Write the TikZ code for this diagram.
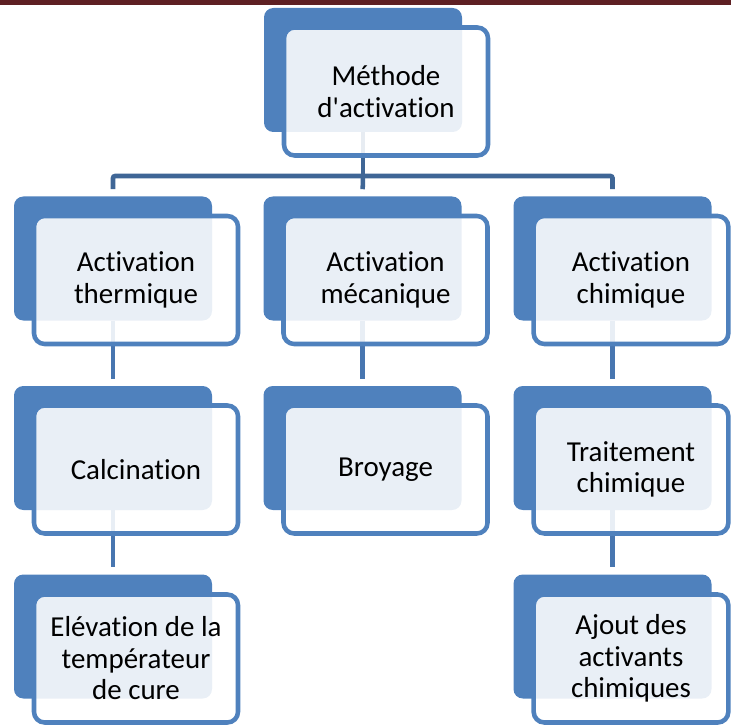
\documentclass[tikz,border=0pt]{standalone}
\usepackage{fontspec}
\setmainfont{Carlito}[Ligatures={NoCommon,NoRequired,NoContextual}]
\usetikzlibrary{positioning,calc}

\definecolor{accent}{HTML}{4F81BD}
\definecolor{trunkblue}{HTML}{3F6696}
\definecolor{linkblue}{HTML}{4876B0}
\definecolor{topbar}{HTML}{5E2023}

\begin{document}
\begin{tikzpicture}[
    x=0.75pt, y=-0.75pt,
    back/.style={fill=accent, rounded corners=7pt, minimum width=148.5pt, minimum height=93pt, inner sep=0pt},
    front/.style={draw=accent, line width=3.4pt, fill=white, fill opacity=0.88, text opacity=1, rounded corners=8pt,
                  minimum width=153pt, minimum height=96pt, inner sep=0pt, align=center, font=\fontsize{21.7}{23.6}\selectfont},
    narrow/.style={front, minimum width=146pt},
    trunk/.style={line width=3.4pt, trunkblue, rounded corners=1.5pt, shorten >=5.25pt},
    link/.style={line width=3.4pt, linkblue, shorten >=5.25pt},
]
\useasboundingbox (0,0) rectangle (731,727);
\clip (0,0) rectangle (731,727);

% Top bar
\fill[topbar] (0,0) rectangle (731,5.5);

% Back plates
\node[back] (b-meth) at (363,70) {};
\node[back] (b-therm) at (113,258.5) {};
\node[back] (b-meca) at (362.5,258.5) {};
\node[back] (b-chim) at (612.5,258.5) {};
\node[back] (b-calc) at (113,448) {};
\node[back] (b-broy) at (362.5,448) {};
\node[back] (b-trait) at (612.5,448) {};
\node[back] (b-elev) at (113,636.5) {};
\node[back] (b-ajout) at (612.5,636.5) {};

% Connectors
\coordinate (bus) at (363,176);
\draw[trunk, shorten >=0pt] (b-meth.south) -- (bus);
\draw[trunk] (bus) -| (b-therm.north);
\draw[trunk] (bus) -| (b-chim.north);
\draw[trunk] (bus) -- (b-meca.north);
\draw[link] (b-therm.south) -- (b-calc.north);
\draw[link] (b-meca.south) -- (b-broy.north);
\draw[link] (b-chim.south) -- (b-trait.north);
\draw[link] (b-calc.south) -- (b-elev.north);
\draw[link] (b-trait.south) -- (b-ajout.north);

% Front cards
\node[front] (meth) at ($(b-meth)+(23,21.5)$) {Méthode\\d\textquotesingle activation};
\node[front] (therm) at ($(b-therm)+(23,21.5)$) {Activation\\thermique};
\node[front] (meca) at ($(b-meca)+(23,21.5)$) {Activation\\mécanique};
\node[narrow] (chim) at ($(b-chim)+(18.5,21.5)$) {Activation\\chimique};
\node[front] (calc) at ($(b-calc)+(23,21.5)$) {Calcination};
\node[front] (broy) at ($(b-broy)+(23,21.5)$) {Broyage};
\node[narrow] (trait) at ($(b-trait)+(18.5,21.5)$) {Traitement\\chimique};
\node[front] (elev) at ($(b-elev)+(23,22)$) {Elévation de la\\températeur\\de cure};
\node[narrow] (ajout) at ($(b-ajout)+(18.5,22)$) {Ajout des\\activants\\chimiques};

\end{tikzpicture}
\end{document}
